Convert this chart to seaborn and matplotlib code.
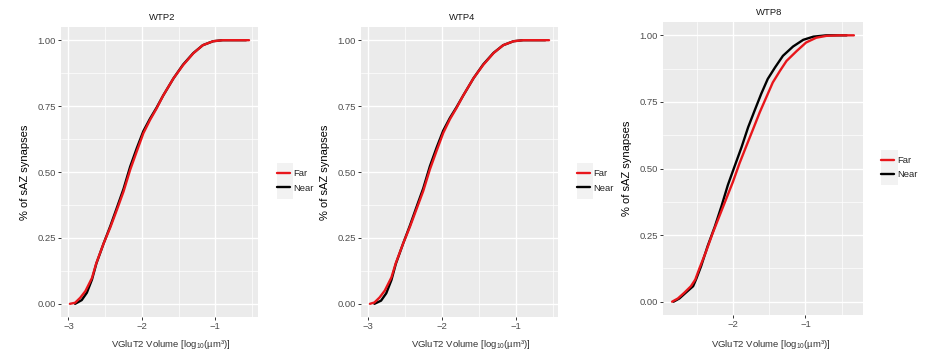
import numpy as np
import pandas as pd
import matplotlib
matplotlib.use("Agg")
import matplotlib.pyplot as plt
import seaborn as sns
from matplotlib.ticker import MultipleLocator
from matplotlib.patches import Rectangle

# Кривые ECDF: log10 объёма и накопленная доля
wtp2_far_x = [-2.98, -2.91, -2.84, -2.77, -2.68, -2.62, -2.52, -2.43, -2.34, -2.25, -2.16,
              -2.07, -1.98, -1.89, -1.80, -1.71, -1.57, -1.44, -1.30, -1.17, -1.03, -0.90, -0.54]
wtp2_far_y = [0.00, 0.004, 0.023, 0.048, 0.098, 0.155, 0.23, 0.29, 0.357, 0.426, 0.508,
              0.578, 0.647, 0.697, 0.741, 0.79, 0.855, 0.905, 0.95, 0.981, 0.996, 1.00, 1.00]
wtp2_near_x = [-2.91, -2.82, -2.75, -2.68, -2.62, -2.52, -2.43, -2.34, -2.25, -2.16, -2.07,
               -1.98, -1.89, -1.80, -1.71, -1.57, -1.44, -1.30, -1.17, -1.03, -0.90, -0.58]
wtp2_near_y = [0.00, 0.014, 0.042, 0.092, 0.153, 0.23, 0.295, 0.365, 0.436, 0.52, 0.59,
               0.655, 0.702, 0.744, 0.79, 0.855, 0.907, 0.951, 0.981, 0.996, 1.00, 1.00]

wtp4_far_x = [-2.97, -2.91, -2.84, -2.77, -2.68, -2.62, -2.52, -2.43, -2.34, -2.25, -2.16,
              -2.07, -1.98, -1.89, -1.80, -1.71, -1.57, -1.44, -1.30, -1.17, -1.03, -0.90, -0.55]
wtp4_far_y = [0.00, 0.005, 0.024, 0.05, 0.10, 0.155, 0.23, 0.292, 0.36, 0.428, 0.51,
              0.58, 0.648, 0.70, 0.743, 0.79, 0.856, 0.906, 0.951, 0.981, 0.996, 1.00, 1.00]
wtp4_near_x = [-2.91, -2.82, -2.75, -2.68, -2.62, -2.52, -2.43, -2.34, -2.25, -2.16, -2.07,
               -1.98, -1.89, -1.80, -1.71, -1.57, -1.44, -1.30, -1.17, -1.03, -0.90, -0.60]
wtp4_near_y = [0.00, 0.012, 0.04, 0.09, 0.152, 0.23, 0.297, 0.368, 0.438, 0.522, 0.592,
               0.657, 0.705, 0.746, 0.79, 0.856, 0.908, 0.952, 0.981, 0.996, 1.00, 1.00]

wtp8_far_x = [-2.84, -2.76, -2.67, -2.58, -2.52, -2.46, -2.37, -2.28, -2.18, -2.09, -2.00,
              -1.91, -1.82, -1.72, -1.63, -1.54, -1.45, -1.35, -1.26, -1.12, -0.99, -0.85,
              -0.71, -0.53, -0.33]
wtp8_far_y = [0.00, 0.012, 0.034, 0.058, 0.083, 0.127, 0.189, 0.257, 0.326, 0.388, 0.45,
              0.519, 0.581, 0.649, 0.711, 0.767, 0.823, 0.867, 0.904, 0.941, 0.973, 0.991,
              0.998, 1.00, 1.00]
wtp8_near_x = [-2.82, -2.74, -2.65, -2.55, -2.51, -2.44, -2.35, -2.25, -2.16, -2.07, -1.98,
               -1.88, -1.79, -1.70, -1.61, -1.52, -1.42, -1.31, -1.17, -1.03, -0.89, -0.71,
               -0.43]
wtp8_near_y = [0.00, 0.012, 0.034, 0.058, 0.083, 0.133, 0.208, 0.282, 0.357, 0.438, 0.506,
               0.581, 0.655, 0.718, 0.78, 0.836, 0.879, 0.923, 0.958, 0.983, 0.995, 1.00,
               1.00]

panel_names = ["WTP2", "WTP4", "WTP8"]
groups = ["Far", "Near"]
colors = {"Far": "#E8161B", "Near": "black"}

sns.set_theme(style="darkgrid", rc={
    "axes.facecolor": "#EBEBEB",
    "grid.color": "white",
    "axes.edgecolor": "#EBEBEB",
    "xtick.color": "#333333",
    "ytick.color": "#333333",
    "xtick.bottom": True,
    "ytick.left": True,
    "xtick.major.size": 2.2,
    "ytick.major.size": 2.2,
    "xtick.major.width": 0.7,
    "ytick.major.width": 0.7,
    "xtick.major.pad": 1.5,
    "ytick.major.pad": 1.5,
})
plt.rcParams["font.family"] = ["Liberation Sans", "DejaVu Sans"]
plt.rcParams["mathtext.fontset"] = "custom"
plt.rcParams["mathtext.rm"] = "Liberation Sans"
plt.rcParams["mathtext.it"] = "Liberation Sans:italic"

W, H = 927, 355
fig = plt.figure(figsize=(W / 100, H / 100), dpi=100)

# положение панелей в пикселях: left, top, right, bottom
boxes = [(61, 27, 258, 317), (361, 27, 558, 317), (663, 22, 863, 315)]
legend_pos = [(277, 163, 293, 199), (577, 163, 593, 199), (881, 150, 898, 185)]
# центры подписей (доли оси), как на исходной картинке
title_x = [0.515, 0.515, 0.53]
xlabel_x = [0.558, 0.558, 0.54]

data = [
    (wtp2_far_x, wtp2_far_y, wtp2_near_x, wtp2_near_y),
    (wtp4_far_x, wtp4_far_y, wtp4_near_x, wtp4_near_y),
    (wtp8_far_x, wtp8_far_y, wtp8_near_x, wtp8_near_y),
]

for i, name in enumerate(panel_names):
    l, t, r, b = boxes[i]
    fx, fy, nx, ny = data[i]
    kl, kt, kr, kb = legend_pos[i]
    ax = fig.add_axes([l / W, 1 - b / H, (r - l) / W, (b - t) / H])
    far = pd.DataFrame({"x": fx, "y": fy, "group": "Far"})
    near = pd.DataFrame({"x": nx, "y": ny, "group": "Near"})

    sns.lineplot(data=near, x="x", y="y", color=colors["Near"], lw=1.7,
                 estimator=None, sort=False, ax=ax)
    sns.lineplot(data=far, x="x", y="y", color=colors["Far"], lw=1.7,
                 estimator=None, sort=False, ax=ax)

    xmin = min(min(fx), min(nx))
    xmax = max(max(fx), max(nx))
    pad = (xmax - xmin) * 0.05
    ax.set_xlim(xmin - pad, xmax + pad)
    ax.set_ylim(-0.05, 1.05)
    ax.xaxis.set_major_locator(MultipleLocator(1))
    ax.xaxis.set_minor_locator(MultipleLocator(0.5))
    ax.set_yticks([0, 0.25, 0.5, 0.75, 1.0])
    ax.set_yticklabels(["0.00", "0.25", "0.50", "0.75", "1.00"])
    ax.yaxis.set_minor_locator(MultipleLocator(0.125))
    ax.set_xticklabels([f"\u2212{abs(int(v))}" for v in ax.get_xticks()])
    ax.grid(which="major", color="white", lw=1.0)
    ax.grid(which="minor", color="white", lw=0.5)
    ax.tick_params(which="minor", length=0)
    ax.tick_params(labelsize=6.8, labelcolor="#4D4D4D")
    for s in ax.spines.values():
        s.set_visible(False)

    ax.set_title(name, fontsize=6.8, color="#1A1A1A", pad=5, x=title_x[i])
    ax.set_xlabel(r"VGluT2 Volume [log$_{10}$(µm³)]", fontsize=6.8, color="#333333")
    ax.xaxis.set_label_coords(xlabel_x[i], (b - 338) / (b - t))
    ax.set_ylabel("% of sAZ synapses", fontsize=8, color="black", labelpad=5)

    # легенда в стиле ggplot: серый фон под ключами
    fig.patches.append(Rectangle((kl / W, 1 - kb / H), (kr - kl) / W, (kb - kt) / H,
                                 transform=fig.transFigure, facecolor="#F2F2F2",
                                 edgecolor="none", zorder=0))
    handles = [ax.lines[1], ax.lines[0]]
    fig.legend(handles, groups, loc="center left",
               bbox_to_anchor=((kl - 8) / W, 1 - (kt + kb) / 2 / H),
               frameon=False, fontsize=6.8, handlelength=1.4, handletextpad=0.4,
               labelspacing=0.55, borderpad=0.3)

fig.savefig("out.png", dpi=100)
